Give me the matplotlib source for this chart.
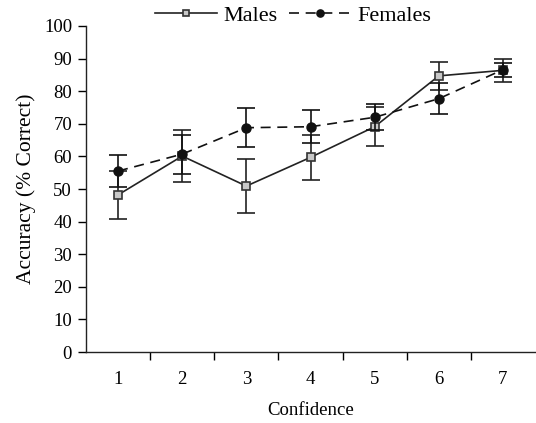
import matplotlib.pyplot as plt
import numpy as np

plt.rcParams['font.family'] = ['Liberation Serif', 'DejaVu Serif']

confidence = [1, 2, 3, 4, 5, 6, 7]
males = [48.2, 60.1, 50.9, 59.7, 69.1, 84.7, 86.4]
males_err = [7.4, 8.0, 8.2, 7.0, 6.0, 4.3, 3.5]
females = [55.5, 60.7, 68.8, 69.1, 72.0, 77.7, 86.6]
females_err = [5.0, 6.0, 6.0, 5.0, 4.0, 4.8, 2.2]

fig = plt.figure(figsize=(5.36, 4.23), dpi=100)
ax = fig.add_axes([86 / 536, 1 - 352 / 423, 449 / 536, 326 / 423])

ax.errorbar(confidence, males, yerr=males_err, color='#222222', lw=1.2,
            elinewidth=1.2, capsize=6.5, capthick=1.2, marker='s', ms=6,
            mfc='#c8c8c8', mec='#333333', mew=1.2, label='Males', zorder=3)
ax.errorbar(confidence, females, yerr=females_err, color='#111111', lw=1.2,
            ls=(0, (6, 4)), elinewidth=1.2, capsize=6.5, capthick=1.2,
            marker='o', ms=6.5, mfc='#111111', mec='#111111', label='Females',
            zorder=4)

ax.set_xlim(0.5, 7.5)
ax.set_ylim(0, 100)
ax.set_yticks(np.arange(0, 101, 10))
ax.set_xticks(confidence)
ax.set_xticks(np.arange(1.5, 7.5, 1), minor=True)
ax.tick_params(axis='x', which='major', length=0, pad=14, labelsize=13.5)
ax.tick_params(axis='x', which='minor', length=6, width=1, direction='out')
ax.tick_params(axis='y', length=6, width=1, labelsize=13.5, pad=4)

for s in ['top', 'right']:
    ax.spines[s].set_visible(False)
for s in ['left', 'bottom']:
    ax.spines[s].set_color('#222222')
    ax.spines[s].set_linewidth(1)

ax.set_xlabel('Confidence', fontsize=13.5, labelpad=10)
ax.set_ylabel('Accuracy (% Correct)', fontsize=15.5, labelpad=6)

handles, labels = ax.get_legend_handles_labels()
handles = [h[0] for h in handles]
leg = fig.legend(handles, labels, loc='center', bbox_to_anchor=(0.547, 0.963),
                 ncol=2, frameon=False, fontsize=16, handlelength=2.8,
                 columnspacing=0.5, handletextpad=0.3, markerscale=0.8)

fig.savefig('out.png', dpi=100)
